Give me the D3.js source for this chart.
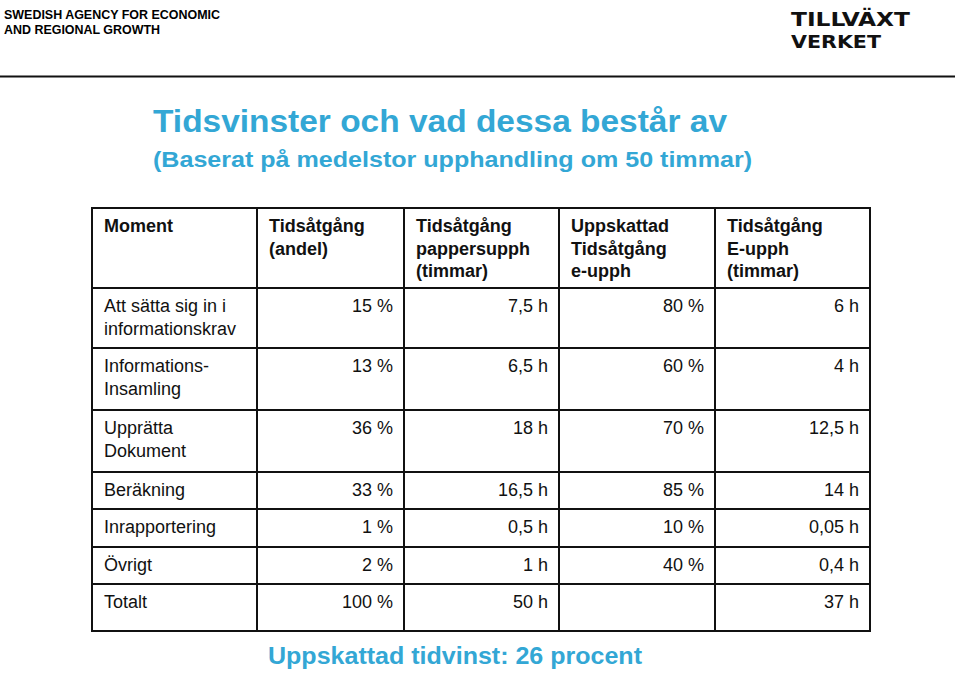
<!DOCTYPE html>
<html><head><meta charset="utf-8">
<script src="https://cdn.jsdelivr.net/npm/d3@7"></script>
<style>
html,body{margin:0;padding:0;background:#fff;}
svg{display:block;font-family:"Liberation Sans",Arial,sans-serif;}
</style></head>
<body>
<svg id="c" width="959" height="673"></svg>
<script>
// ---- data ----
const headers = [
  ["Moment"],
  ["Tidsåtgång","(andel)"],
  ["Tidsåtgång","pappersupph","(timmar)"],
  ["Uppskattad","Tidsåtgång","e-upph"],
  ["Tidsåtgång","E-upph","(timmar)"]
];
const moments = [["Att sätta sig in i","informationskrav"],["Informations-","Insamling"],["Upprätta","Dokument"],["Beräkning"],["Inrapportering"],["Övrigt"],["Totalt"]];
const andel = ["15 %","13 %","36 %","33 %","1 %","2 %","100 %"];
const pappersupph = ["7,5 h","6,5 h","18 h","16,5 h","0,5 h","1 h","50 h"];
const uppskattad = ["80 %","60 %","70 %","85 %","10 %","40 %",""];
const eupph = ["6 h","4 h","12,5 h","14 h","0,05 h","0,4 h","37 h"];
const agency = ["SWEDISH AGENCY FOR ECONOMIC","AND REGIONAL GROWTH"];
const logoLines = ["TILLVÄXT","VERKET"];
const title = "Tidsvinster och vad dessa består av";
const subtitle = "(Baserat på medelstor upphandling om 50 timmar)";
const footer = "Uppskattad tidvinst: 26 procent";

// ---- layout ----
const svg = d3.select("#c");
const blue = "#33a7d5";
const colEdges = [92, 257, 404, 559, 715, 870];
const rowEdges = [208, 288, 348, 410, 472, 509, 547, 584, 631];
const lh = 22.5;

// header area
svg.append("text").attr("x",4).attr("y",19).attr("font-size",12.6).attr("font-weight","bold")
  .text(agency[0]).attr("textLength",216).attr("lengthAdjust","spacingAndGlyphs");
svg.append("text").attr("x",4).attr("y",34).attr("font-size",12.6).attr("font-weight","bold")
  .text(agency[1]).attr("textLength",156).attr("lengthAdjust","spacingAndGlyphs");
// logo
const logo = svg.append("g").attr("font-family","'DejaVu Sans Condensed','DejaVu Sans',sans-serif").attr("font-weight","bold").attr("fill","#111");
logo.append("text").attr("x",791).attr("y",26).attr("font-size",20).text(logoLines[0]).attr("textLength",119).attr("lengthAdjust","spacingAndGlyphs");
logo.append("text").attr("x",791).attr("y",48).attr("font-size",17).text(logoLines[1]).attr("textLength",90).attr("lengthAdjust","spacingAndGlyphs");
svg.append("line").attr("x1",0).attr("x2",955).attr("y1",76.5).attr("y2",76.5).attr("stroke","#111").attr("stroke-width",2);

// titles
svg.append("text").attr("x",153).attr("y",132).attr("font-size",31).attr("font-weight","bold").attr("fill",blue)
  .text(title).attr("textLength",574).attr("lengthAdjust","spacingAndGlyphs");
svg.append("text").attr("x",153).attr("y",167).attr("font-size",22).attr("font-weight","bold").attr("fill",blue)
  .text(subtitle).attr("textLength",599).attr("lengthAdjust","spacingAndGlyphs");

// table grid
const x = d3.scaleOrdinal().domain(d3.range(6)).range(colEdges);
const y = d3.scaleOrdinal().domain(d3.range(9)).range(rowEdges);
const grid = svg.append("g").attr("stroke","#111").attr("stroke-width",2);
grid.selectAll("line.h").data(d3.range(9)).join("line")
  .attr("x1",colEdges[0]-1).attr("x2",colEdges[5]+1).attr("y1",d=>y(d)).attr("y2",d=>y(d));
grid.selectAll("line.v").data(d3.range(6)).join("line")
  .attr("class","v").attr("y1",rowEdges[0]).attr("y2",rowEdges[8]).attr("x1",d=>x(d)).attr("x2",d=>x(d));

// header text
const hg = svg.append("g").attr("font-size",18).attr("font-weight","bold").attr("fill","#111");
headers.forEach((lines,i)=>{
  const t = hg.append("text").attr("x",colEdges[i]+12).attr("y",rowEdges[0]+24);
  lines.forEach((s,k)=>t.append("tspan").attr("x",colEdges[i]+12).attr("dy",k?lh:0).text(s));
});

// body
const bg = svg.append("g").attr("font-size",18).attr("fill","#111");
const cols = [andel, pappersupph, uppskattad, eupph];
moments.forEach((lines,r)=>{
  const top = rowEdges[r+1];
  const base = top + 24;
  const t = bg.append("text").attr("x",colEdges[0]+12).attr("y",base);
  lines.forEach((s,k)=>t.append("tspan").attr("x",colEdges[0]+12).attr("dy",k?lh:0).text(s));
  cols.forEach((arr,c)=>{
    bg.append("text").attr("x",colEdges[c+2]-11).attr("y",base).attr("text-anchor","end").text(arr[r]);
  });
});

svg.append("text").attr("x",268).attr("y",664).attr("font-size",24).attr("font-weight","bold").attr("fill",blue)
  .text(footer).attr("textLength",374).attr("lengthAdjust","spacingAndGlyphs");
</script>
</body></html>
